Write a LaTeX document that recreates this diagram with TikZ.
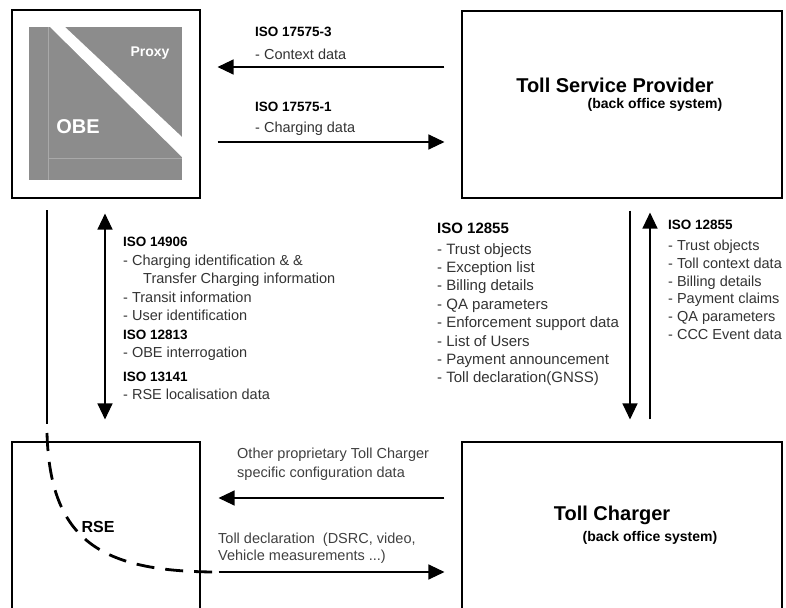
\documentclass[tikz,border=0pt]{standalone}
\usepackage{fontspec}
\setmainfont{Liberation Sans}
\usetikzlibrary{arrows.meta}
\definecolor{obegray}{RGB}{140,140,140}
\newcommand\isohd[1]{{\fontsize{13.5}{18.5}\selectfont\bfseries\color{black}#1}}

\begin{document}
\begin{tikzpicture}[x=1pt,y=-1pt,
    box/.style={draw,line width=1.1pt,inner sep=0pt},
    arr/.style={line width=1.2pt,-{Triangle[length=16pt,width=15pt]}},
    dblarr/.style={line width=1.2pt,%
      {Triangle[length=16pt,width=15pt]}-{Triangle[length=16pt,width=15pt]}},
    txt/.style={anchor=north west,inner sep=0pt,align=left,text=black!80,%
      font=\fontsize{14.5}{18.5}\selectfont},
    title/.style={inner sep=0pt,font=\fontsize{20}{24}\selectfont\bfseries},
    sub/.style={inner sep=0pt,font=\fontsize{14}{17}\selectfont\bfseries},
    dashline/.style={line width=2.8pt,dash pattern=on 18pt off 11pt}]
  \useasboundingbox (0,0) rectangle (786,607) ;
  \clip (0,0) rectangle (786,607) ;

  \node[box,minimum width=188,minimum height=188] (obe) at (106,104) {} ;
  \node[box,minimum width=320,minimum height=187] (tsp) at (622,104.5) {} ;
  \node[box,minimum width=320,minimum height=190] (tc) at (622,537) {} ;
  \node[box,minimum width=188,minimum height=190] (rse) at (106,537) {} ;

  \fill[obegray] (29,27) rectangle (182,180) ;
  \draw[obegray!75!white,line width=0.6pt] (48,27) -- (48,180) (48,158) -- (182,158) ;
  \fill[white] (50,27) -- (65,27) -- (182,137) -- (182,157) -- cycle ;
  \node[text=white,font=\fontsize{14}{17}\selectfont\bfseries] (proxy) at (150,53) {Proxy} ;
  \node[text=white,font=\fontsize{20}{24}\selectfont\bfseries] (obename) at (78,127) {OBE} ;

  \node[title] (tspname) at (615,85) {Toll Service Provider} ;
  \node[sub] (tspsub) at (655,105) {(back office system)} ;
  \node[title] (tcname) at (612,515) {Toll Charger} ;
  \node[sub] (tcsub) at (650,538) {(back office system)} ;
  \node[font=\fontsize{16}{19}\selectfont\bfseries] (rsename) at (98,527) {RSE} ;

  \draw[arr,shorten <=17pt,shorten >=17pt] (tsp.west |- 0,67) -- (obe.east |- 0,67) ;
  \draw[arr,shorten <=17pt,shorten >=17pt] (obe.east |- 0,142) -- (tsp.west |- 0,142) ;
  \node[txt] (ctx) at (255,27) {\isohd{ISO 17575-3}\\[4pt]- Context data} ;
  \node[txt] (chg) at (255,102) {\isohd{ISO 17575-1}\\[2pt]- Charging data} ;

  \draw[dblarr,shorten <=15pt,shorten >=22pt] ([xshift=-1pt]obe.south) -- ([xshift=-1pt]rse.north) ;
  \node[txt] (dsrc) at (123,237) {\isohd{ISO 14906}\\
    - Charging identification \& \&\\
    \hspace*{20pt}Transfer Charging information\\
    - Transit information\\
    - User identification\\
    \isohd{ISO 12813}\\
    - OBE interrogation\\[5pt]
    \isohd{ISO 13141}\\
    - RSE localisation data} ;

  \draw[arr,shorten <=12pt,shorten >=22pt] ([xshift=8pt]tsp.south) -- ([xshift=8pt]tc.north) ;
  \draw[arr,shorten <=22pt,shorten >=14pt] ([xshift=28pt]tc.north) -- ([xshift=28pt]tsp.south) ;
  \node[txt,font=\fontsize{15}{18.4}\selectfont] (down) at (437,222.5) {%
    {\bfseries\color{black}ISO 12855}\\[2.5pt]
    - Trust objects\\
    - Exception list\\
    - Billing details\\
    - QA parameters\\
    - Enforcement support data\\
    - List of Users\\
    - Payment announcement\\
    - Toll declaration(GNSS)} ;
  \node[txt,font=\fontsize{14.5}{17.8}\selectfont] (up) at (668,220) {%
    \isohd{ISO 12855}\\[3pt]
    - Trust objects\\
    - Toll context data\\
    - Billing details\\
    - Payment claims\\
    - QA parameters\\
    - CCC Event data} ;

  \draw[arr,shorten <=17pt,shorten >=18pt] (tc.west |- 0,498) -- (rse.east |- 0,498) ;
  \draw[arr,shorten <=18pt,shorten >=17pt] (rse.east |- 0,572) -- (tc.west |- 0,572) ;
  \node[txt,text=black!75,font=\fontsize{14.5}{19}\selectfont] (conf) at (237,447.5) {%
    Other proprietary Toll Charger\\specific configuration data} ;
  \node[txt,text=black!75,font=\fontsize{14.5}{17}\selectfont] (decl) at (218,532.5) {%
    Toll declaration\ \ (DSRC, video,\\Vehicle measurements ...)} ;

  \coordinate (wtop) at (47,210) ;
  \coordinate (wbot) at (47,424) ;
  \coordinate (dtop) at (47,433) ;
  \coordinate (dend) at (218,572) ;
  \draw[line width=1.1pt] (wtop) -- (wbot) ;
  \draw[dashline] (dtop) .. controls (50,540) and (100,572) .. (dend) ;
\end{tikzpicture}
\end{document}
